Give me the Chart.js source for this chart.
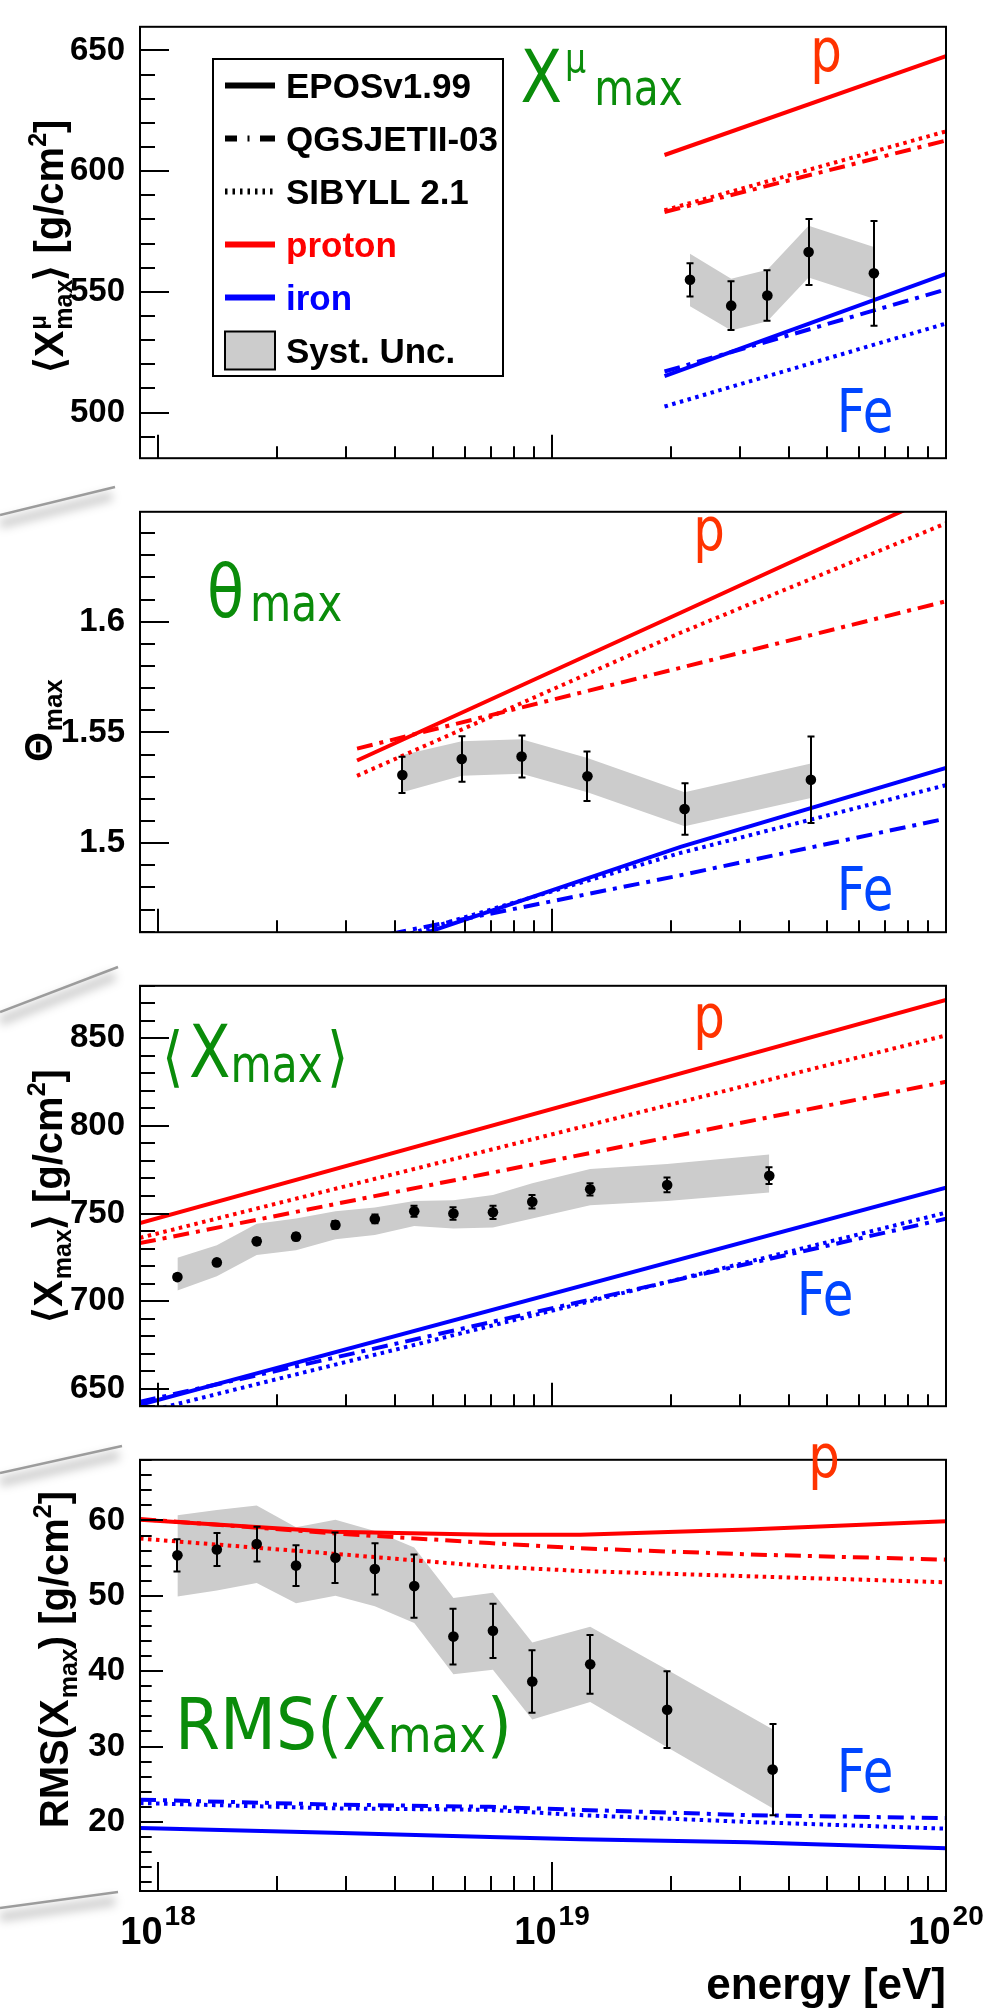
<!DOCTYPE html>
<html>
<head>
<meta charset="utf-8">
<title>Shower maximum observables vs energy</title>
<script src="https://cdn.jsdelivr.net/npm/chart.js@4.4.1/dist/chart.umd.min.js"></script>
<style>
  html, body { margin: 0; padding: 0; background: #fff; }
  #wrap { position: relative; width: 987px; height: 2009px; overflow: hidden; background: #fff; }
  #wrap canvas { position: absolute; left: 0; }
  #wrap svg { position: absolute; left: 0; top: 0; }
</style>
</head>
<body>
<div id="wrap">
  <svg width="987" height="2009">
    <defs>
      <filter id="soft" x="-30%" y="-300%" width="160%" height="700%">
        <feGaussianBlur stdDeviation="5"/>
      </filter>
    </defs>
    <g stroke="rgba(0,0,0,0.20)" stroke-width="9" filter="url(#soft)" transform="translate(0,9)">
      <line x1="0" y1="515" x2="112" y2="487"/>
      <line x1="0" y1="1012" x2="115" y2="967"/>
      <line x1="0" y1="1473" x2="119" y2="1446"/>
      <line x1="0" y1="1908" x2="115" y2="1892"/>
    </g>
    <g stroke="#9c9c9c" stroke-width="2.5">
      <line x1="0" y1="515" x2="115" y2="487"/>
      <line x1="0" y1="1012" x2="118" y2="967"/>
      <line x1="0" y1="1473" x2="122" y2="1446"/>
      <line x1="0" y1="1908" x2="118" y2="1892"/>
    </g>
  </svg>
  <canvas id="c1" width="987" height="485" style="top:0px"></canvas>
  <canvas id="c2" width="987" height="474" style="top:485px"></canvas>
  <canvas id="c3" width="987" height="474" style="top:959px"></canvas>
  <canvas id="c4" width="987" height="576" style="top:1433px"></canvas>
</div>
<script>
// ---------- energy axis ----------
const xTickExponents = [18, 19, 20];

// ---------- <X^mu_max> [g/cm2] ----------
const muE     = [2.24e19, 2.85e19, 3.52e19, 4.48e19, 6.56e19];
const muVal   = [555.0, 544.3, 548.5, 566.5, 557.7];
const muErr   = [6.9, 10.1, 10.5, 13.7, 21.7];
const muSysHi = [565.8, 555.4, 559.2, 577.4, 568.6];
const muSysLo = [544.0, 534.0, 537.8, 556.0, 547.2];
const muModelE = [1.93e19, 1e20];
const muEposP  = [606.7, 647.6];
const muQgsP   = [583.1, 612.7];
const muSibP   = [583.8, 616.5];
const muEposFe = [515.1, 557.5];
const muQgsFe  = [517.0, 551.0];
const muSibFe  = [502.5, 536.9];

// ---------- Theta_max ----------
const thE     = [4.17e18, 5.9e18, 8.37e18, 1.23e19, 2.17e19, 4.54e19];
const thVal   = [1.5308, 1.5380, 1.5391, 1.5302, 1.5154, 1.5286];
const thErr   = [0.0082, 0.0103, 0.0095, 0.0112, 0.0116, 0.0195];
const thSysHi = [1.5398, 1.5460, 1.5469, 1.5384, 1.5230, 1.5360];
const thSysLo = [1.5230, 1.5304, 1.5313, 1.5230, 1.5076, 1.5204];
const thModelE = [3.2e18, 2.12e19, 1e20];
const thEposP  = [1.5373, 1.6040, 1.6590];
const thQgsP   = [1.5427, 1.5792, 1.6092];
const thSibP   = [1.5304, 1.5950, 1.6444];
const thEposFe = [1.4490, 1.4983, 1.5340];
const thQgsFe  = [1.4560, 1.4855, 1.5111];
const thSibFe  = [1.4520, 1.4956, 1.5262];

// ---------- <X_max> [g/cm2] ----------
const xmE     = [1.12e18, 1.41e18, 1.78e18, 2.24e18, 2.82e18, 3.55e18, 4.47e18, 5.62e18, 7.08e18, 8.91e18, 1.25e19, 1.96e19, 3.56e19];
const xmVal   = [713.7, 722.1, 734.1, 736.8, 743.5, 746.9, 751.3, 750.0, 750.7, 756.7, 763.8, 766.3, 771.6];
const xmErr   = [1.6, 1.7, 1.9, 2.0, 2.2, 2.5, 3.2, 3.6, 3.8, 3.9, 3.5, 4.2, 4.8];
const xmSysHi = [724.8, 731.9, 744.2, 747.1, 751.3, 753.4, 757.2, 757.6, 760.5, 767.3, 775.4, 778.3, 783.7];
const xmSysLo = [706.1, 714.2, 726.3, 729.1, 735.3, 737.8, 742.9, 741.5, 742.0, 747.1, 754.7, 757.2, 762.0];
const xmModelE = [9e17, 1e20];
const xmEposP  = [744.5, 871.9];
const xmQgsP   = [733.1, 825.2];
const xmSibP   = [736.1, 851.7];
const xmEposFe = [640.8, 764.8];
const xmQgsFe  = [642.5, 747.0];
const xmSibFe  = [636.0, 750.5];

// ---------- RMS(X_max) [g/cm2] ----------
const rmsE     = [1.12e18, 1.41e18, 1.78e18, 2.24e18, 2.82e18, 3.55e18, 4.47e18, 5.62e18, 7.08e18, 8.91e18, 1.25e19, 1.96e19, 3.63e19];
const rmsVal   = [55.37, 56.15, 56.87, 54.01, 55.06, 53.56, 51.29, 44.59, 45.36, 38.64, 40.91, 34.89, 26.94];
const rmsErr   = [2.15, 2.2, 2.3, 2.7, 3.35, 3.4, 4.2, 3.7, 3.6, 4.15, 3.9, 5.1, 6.05];
const rmsSysHi = [60.7, 61.4, 62.0, 59.1, 60.1, 58.6, 56.4, 49.7, 50.4, 43.8, 45.9, 40.2, 32.3];
const rmsSysLo = [49.9, 50.7, 51.7, 49.0, 50.0, 48.6, 46.4, 39.6, 40.2, 33.6, 35.9, 29.9, 21.8];
const rmsModelE = [9e17, 2.77e18, 6.95e18, 1.18e19, 3.14e19, 1e20];
const rmsEposP  = [60.1, 58.5, 58.1, 58.1, 58.8, 59.9];
const rmsQgsP   = [60.2, 58.3, 57.0, 56.3, 55.5, 54.8];
const rmsSibP   = [57.6, 55.6, 53.9, 53.3, 52.6, 51.8];
const rmsEposFe = [19.2, 18.55, 18.0, 17.7, 17.3, 16.5];
const rmsQgsFe  = [22.95, 22.3, 22.0, 21.6, 20.9, 20.5];
const rmsSibFe  = [22.5, 21.8, 21.6, 20.9, 20.0, 19.1];

// ---------- styling ----------
const SANS = '"Liberation Sans", Arial, Helvetica, sans-serif';
const VER = '"DejaVu Sans", Verdana, sans-serif';
const RED = '#ff0000', BLUE = '#0000ff';
const GREEN = '#0a8c0a', PCOL = '#ff3300', FECOL = '#0046ff';
const LW = 4;
const DASHDOT = [16, 7, 4, 7];
const DOTTED = [3.5, 4.5];
const SX = 0.83;   // horizontal squeeze of the large annotation font

// ---------- text helpers ----------
function txt(ctx, s, x, y, font, color, sx = 1, align = 'left') {
  ctx.save();
  ctx.font = font; ctx.fillStyle = color; ctx.textAlign = align; ctx.textBaseline = 'alphabetic';
  ctx.translate(x, y); ctx.scale(sx, 1);
  ctx.fillText(s, 0, 0);
  const w = ctx.measureText(s).width * sx;
  ctx.restore();
  return w;
}
function run(ctx, x, parts, color, sx = SX) {
  for (const p of parts) {
    x += p.dx || 0;
    x += txt(ctx, p.t, x, p.y, `${p.w || 'normal'} ${p.size}px ${VER}`, color, sx);
  }
}
// rotated (bottom-to-top) axis title; each part is a stack of pieces sharing one x slot
function vtitle(ctx, bx, cy, parts) {
  ctx.save();
  ctx.translate(bx, cy); ctx.rotate(-Math.PI / 2);
  ctx.fillStyle = '#000'; ctx.textBaseline = 'alphabetic'; ctx.textAlign = 'left';
  const ws = parts.map(p => Math.max(...p.map(q => { ctx.font = `bold ${q.size}px ${SANS}`; return ctx.measureText(q.t).width; })));
  let x = -ws.reduce((a, b) => a + b, 0) / 2;
  parts.forEach((p, i) => {
    p.forEach(q => { ctx.font = `bold ${q.size}px ${SANS}`; ctx.fillText(q.t, x + (q.dx || 0), q.dy || 0); });
    x += ws[i];
  });
  ctx.restore();
}

function drawFrame(ctx, chart, p) {
  const a = chart.chartArea, xs = chart.scales.x, ys = chart.scales.y;
  ctx.save();
  ctx.strokeStyle = '#000'; ctx.lineWidth = 2; ctx.lineCap = 'butt';
  ctx.beginPath();
  for (let d = 17; d <= 20; d++) {
    for (let k = 1; k <= 9; k++) {
      const v = k * Math.pow(10, d);
      if (v < xs.min * 1.001 || v > xs.max * 1.001) continue;
      const x = Math.round(xs.getPixelForValue(v));
      const L = k === 1 ? p.xLen[0] : p.xLen[1];
      ctx.moveTo(x, a.bottom); ctx.lineTo(x, a.bottom - L);
    }
  }
  const n0 = Math.ceil(ys.min / p.yMinor - 1e-9), n1 = Math.floor(ys.max / p.yMinor + 1e-9);
  for (let n = n0; n <= n1; n++) {
    const v = n * p.yMinor;
    const r = v / p.yStep;
    const major = Math.abs(r - Math.round(r)) < 1e-6;
    const y = Math.round(ys.getPixelForValue(v));
    ctx.moveTo(a.left, y); ctx.lineTo(a.left + (major ? p.yLen[0] : p.yLen[1]), y);
  }
  ctx.stroke();
  ctx.strokeRect(a.left, a.top, a.right - a.left, a.bottom - a.top);
  ctx.restore();
}

function pLabel(ctx, x, y) { txt(ctx, 'p', x, y, `60px ${VER}`, PCOL, SX); }
function feLabel(ctx, x, y) { txt(ctx, 'Fe', x, y, `60px ${VER}`, FECOL, SX); }

function drawLegend(ctx) {
  ctx.save();
  ctx.fillStyle = '#fff'; ctx.fillRect(213, 59, 290, 317);
  ctx.strokeStyle = '#000'; ctx.lineWidth = 2; ctx.strokeRect(213, 59, 290, 317);
  const rows = [
    { t: 'EPOSv1.99',   c: '#000', line: '#000', dash: [] },
    { t: 'QGSJETII-03', c: '#000', line: '#000', dash: [12, 10.5, 2, 10.5, 15, 60] },
    { t: 'SIBYLL 2.1',  c: '#000', line: '#000', dash: [2.5, 5] },
    { t: 'proton',      c: RED,    line: RED,    dash: [] },
    { t: 'iron',        c: BLUE,   line: BLUE,   dash: [] },
    { t: 'Syst. Unc.',  c: '#000', box: true }
  ];
  rows.forEach((r, i) => {
    const cy = 85.5 + i * 53;
    if (r.box) {
      ctx.fillStyle = '#cccccc'; ctx.fillRect(225, cy - 19, 50, 38);
      ctx.lineWidth = 2; ctx.strokeStyle = '#000'; ctx.setLineDash([]); ctx.strokeRect(225, cy - 19, 50, 38);
    } else {
      ctx.beginPath(); ctx.setLineDash(r.dash); ctx.lineDashOffset = 0;
      ctx.strokeStyle = r.line; ctx.lineWidth = 6; ctx.lineCap = 'butt';
      ctx.moveTo(225, cy); ctx.lineTo(275, cy); ctx.stroke();
      ctx.setLineDash([]);
    }
    txt(ctx, r.t, 286, cy + 12.5, `bold 35px ${SANS}`, r.c);
  });
  ctx.restore();
}

// ---------- panels ----------
const panels = [
  {
    id: 'c1', pad: { top: 12, bottom: 0 }, yMin: 481.1, yMax: 659.8, yStep: 50, yMinor: 10,
    yLen: [29, 15], xLen: [23.5, 12], fmt: v => String(Math.round(v)),
    E: muE, val: muVal, err: muErr, hi: muSysHi, lo: muSysLo, mE: muModelE,
    models: [muEposP, muQgsP, muSibP, muEposFe, muQgsFe, muSibFe],
    decorate(ctx) {
      drawLegend(ctx);
      run(ctx, 520.5, [
        { t: 'X', size: 73, y: 101.7 },
        { t: 'μ', size: 40, y: 72, dx: 3 },
        { t: 'max', size: 49, y: 105, dx: 8 }
      ], GREEN);
      pLabel(ctx, 810.3, 71);
      feLabel(ctx, 836.8, 432);
      vtitle(ctx, 63, 246.5, [
        [{ t: '⟨', size: 40 }],
        [{ t: 'X', size: 40 }],
        [{ t: 'μ', size: 24, dy: -17, dx: 1 }, { t: 'max', size: 25, dy: 9, dx: 1 }],
        [{ t: '⟩', size: 40 }],
        [{ t: ' [g/cm', size: 40 }],
        [{ t: '2', size: 25, dy: -17 }],
        [{ t: ']', size: 40 }]
      ]);
    }
  },
  {
    id: 'c2', pad: { top: 0, bottom: 0 }, yMin: 1.4598, yMax: 1.6496, yStep: 0.05, yMinor: 0.01,
    yLen: [29, 15], xLen: [23.5, 12], fmt: v => String(Math.round(v * 100) / 100),
    E: thE, val: thVal, err: thErr, hi: thSysHi, lo: thSysLo, mE: thModelE,
    models: [thEposP, thQgsP, thSibP, thEposFe, thQgsFe, thSibFe],
    decorate(ctx) {
      run(ctx, 207, [
        { t: 'θ', size: 73, y: 132 },
        { t: 'max', size: 51, y: 136, dx: 6 }
      ], GREEN);
      pLabel(ctx, 693.3, 64.5);
      feLabel(ctx, 836.8, 425);
      vtitle(ctx, 52, 236, [
        [{ t: 'Θ', size: 38 }],
        [{ t: 'max', size: 26, dy: 10, dx: 1 }]
      ]);
    }
  },
  {
    id: 'c3', pad: { top: 0, bottom: 0 }, yMin: 640.0, yMax: 880.0, yStep: 50, yMinor: 10,
    yLen: [29, 15], xLen: [23.5, 12], fmt: v => String(Math.round(v)),
    E: xmE, val: xmVal, err: xmErr, hi: xmSysHi, lo: xmSysLo, mE: xmModelE,
    models: [xmEposP, xmQgsP, xmSibP, xmEposFe, xmQgsFe, xmSibFe],
    decorate(ctx) {
      txt(ctx, '⟨', 162, 120, `66px ${VER}`, GREEN, SX);
      txt(ctx, 'X', 189, 118.3, `73px ${VER}`, GREEN, SX);
      txt(ctx, 'max', 230.5, 122.7, `51px ${VER}`, GREEN, SX);
      txt(ctx, '⟩', 327, 120, `66px ${VER}`, GREEN, SX);
      pLabel(ctx, 693.3, 78);
      feLabel(ctx, 796.8, 356);
      vtitle(ctx, 62, 237, [
        [{ t: '⟨', size: 40 }],
        [{ t: 'X', size: 40 }],
        [{ t: 'max', size: 25, dy: 9, dx: 1 }],
        [{ t: '⟩', size: 40 }],
        [{ t: ' [g/cm', size: 40 }],
        [{ t: '2', size: 25, dy: -17 }],
        [{ t: ']', size: 40 }]
      ]);
    }
  },
  {
    id: 'c4', pad: { top: 0, bottom: 118 }, yMin: 10.83, yMax: 68.05, yStep: 10, yMinor: 2,
    yLen: [23, 11.7], xLen: [29, 15], fmt: v => String(Math.round(v)),
    E: rmsE, val: rmsVal, err: rmsErr, hi: rmsSysHi, lo: rmsSysLo, mE: rmsModelE,
    models: [rmsEposP, rmsQgsP, rmsSibP, rmsEposFe, rmsQgsFe, rmsSibFe],
    decorate(ctx, chart) {
      run(ctx, 175, [
        { t: 'RMS(X', size: 72, y: 315.6 },
        { t: 'max', size: 50, y: 319.3, dx: 1 },
        { t: ')', size: 72, y: 315.6, dx: 1 }
      ], GREEN, 0.9);
      pLabel(ctx, 808.3, 43.5);
      feLabel(ctx, 836.8, 359);
      vtitle(ctx, 68, 226.6, [
        [{ t: 'RMS(X', size: 40 }],
        [{ t: 'max', size: 25, dy: 9, dx: 1 }],
        [{ t: ') [g/cm', size: 40 }],
        [{ t: '2', size: 25, dy: -17 }],
        [{ t: ']', size: 40 }]
      ]);
      // energy axis labels
      const a = chart.chartArea, xs = chart.scales.x;
      xTickExponents.forEach(e => {
        const x = xs.getPixelForValue(Math.pow(10, e));
        ctx.font = `bold 38px ${SANS}`; const w1 = ctx.measureText('10').width;
        ctx.font = `bold 28px ${SANS}`; const w2 = ctx.measureText(String(e)).width;
        const x0 = x - (w1 + 2 + w2) / 2;
        txt(ctx, '10', x0, a.bottom + 53, `bold 38px ${SANS}`, '#000');
        txt(ctx, String(e), x0 + w1 + 2, a.bottom + 34, `bold 28px ${SANS}`, '#000');
      });
      txt(ctx, 'energy [eV]', 946, a.bottom + 108, `bold 44px ${SANS}`, '#000', 1, 'right');
    }
  }
];

function panelPlugin(p) {
  return {
    id: 'panelDecor_' + p.id,
    beforeDatasetDraw(chart, args) {
      const d = chart.data.datasets[args.index];
      if (!d.errors) return;
      const ctx = chart.ctx, xs = chart.scales.x, ys = chart.scales.y;
      ctx.save();
      ctx.strokeStyle = '#000'; ctx.lineWidth = 2; ctx.lineCap = 'butt';
      ctx.beginPath();
      d.data.forEach((pt, i) => {
        const e = d.errors[i];
        const x = Math.round(xs.getPixelForValue(pt.x));
        const y1 = ys.getPixelForValue(pt.y + e), y2 = ys.getPixelForValue(pt.y - e);
        ctx.moveTo(x, y1); ctx.lineTo(x, y2);
        ctx.moveTo(x - 3.5, y1); ctx.lineTo(x + 3.5, y1);
        ctx.moveTo(x - 3.5, y2); ctx.lineTo(x + 3.5, y2);
      });
      ctx.stroke();
      ctx.restore();
    },
    afterDraw(chart) {
      const ctx = chart.ctx;
      drawFrame(ctx, chart, p);
      p.decorate(ctx, chart);
    }
  };
}

const pts = (xs, ys) => xs.map((x, i) => ({ x, y: ys[i] }));
const modelStyles = [[RED, []], [RED, DASHDOT], [RED, DOTTED], [BLUE, []], [BLUE, DASHDOT], [BLUE, DOTTED]];

panels.forEach(p => {
  const ds = [];
  ds.push({ data: pts(p.E, p.hi), fill: '+1', backgroundColor: '#cccccc', borderColor: 'rgba(0,0,0,0)',
            borderWidth: 0, pointRadius: 0, order: 3, clip: 0 });
  ds.push({ data: pts(p.E, p.lo), fill: false, backgroundColor: '#cccccc', borderColor: 'rgba(0,0,0,0)',
            borderWidth: 0, pointRadius: 0, order: 3, clip: 0 });
  p.models.forEach((m, i) => ds.push({
    data: pts(p.mE, m), borderColor: modelStyles[i][0], borderDash: modelStyles[i][1],
    borderWidth: LW, borderCapStyle: 'butt', pointRadius: 0, fill: false, order: 2, clip: 0
  }));
  ds.push({ data: pts(p.E, p.val), showLine: false, pointRadius: 5.3, pointHoverRadius: 5.3,
            pointBackgroundColor: '#000', pointBorderColor: '#000', pointBorderWidth: 0,
            order: 1, errors: p.err });

  new Chart(document.getElementById(p.id), {
    type: 'line',
    data: { datasets: ds },
    options: {
      responsive: false, animation: false, devicePixelRatio: 1, events: [],
      layout: { padding: { top: p.pad.top, bottom: p.pad.bottom, left: 0, right: 41 } },
      plugins: { legend: { display: false }, tooltip: { enabled: false } },
      scales: {
        x: { type: 'logarithmic', min: 9e17, max: 1e20, display: false },
        y: {
          type: 'linear', min: p.yMin, max: p.yMax,
          grid: { display: false }, border: { display: false },
          ticks: {
            stepSize: p.yStep, includeBounds: false, autoSkip: false, padding: 7, color: '#000',
            font: { family: SANS, size: 33, weight: 'bold' }, callback: v => p.fmt(v)
          },
          afterFit: s => { s.width = 140; }
        }
      }
    },
    plugins: [panelPlugin(p)]
  });
});
</script>
</body>
</html>
